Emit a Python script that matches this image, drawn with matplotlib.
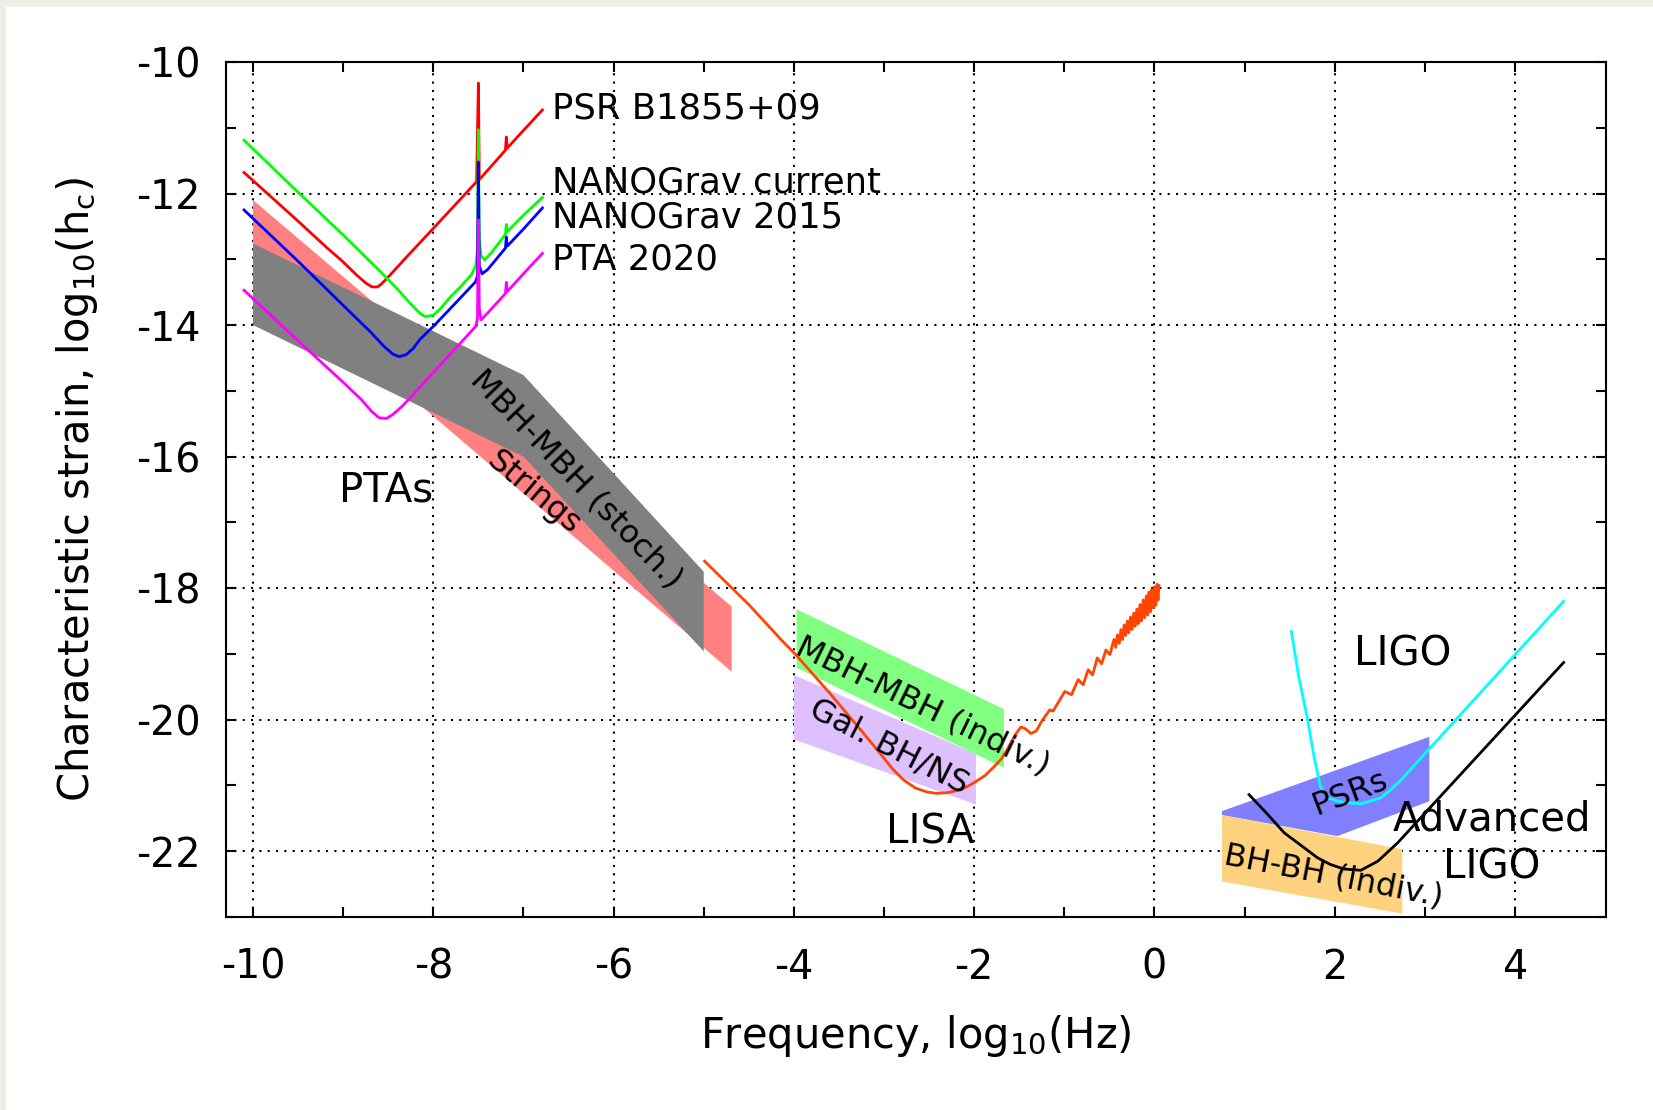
import matplotlib
matplotlib.use("Agg")
import matplotlib.pyplot as plt
from matplotlib.patches import Rectangle

plt.rcParams['axes.unicode_minus'] = False

# ---- data (log10 f, log10 h_c) ----
psr_x = [-10.10, -9.80, -9.50, -9.20, -9.00, -8.85, -8.75, -8.68, -8.62, -8.58, -8.50, -8.30,
         -8.00, -7.75, -7.52, -7.50, -7.49, -7.20, -7.19, -7.18, -7.00, -6.79]
psr_y = [-11.68, -12.05, -12.42, -12.80, -13.04, -13.24, -13.36, -13.42, -13.42, -13.38, -13.27, -12.97,
         -12.53, -12.16, -11.82, -10.32, -11.79, -11.34, -11.14, -11.31, -11.04, -10.73]

ng_cur_x = [-10.10, -9.50, -9.00, -8.60, -8.40, -8.25, -8.15, -8.09, -8.00, -7.92, -7.81, -7.70,
            -7.58, -7.53, -7.51, -7.50, -7.49, -7.47, -7.43, -7.35, -7.20, -7.19, -7.18, -7.00, -6.79]
ng_cur_y = [-11.19, -11.98, -12.63, -13.17, -13.45, -13.68, -13.82, -13.87, -13.85, -13.75, -13.57, -13.42,
            -13.24, -13.10, -12.85, -11.03, -12.70, -12.95, -13.01, -12.89, -12.62, -12.47, -12.58, -12.33, -12.06]

ng15_x = [-10.10, -9.50, -9.00, -8.70, -8.55, -8.45, -8.38, -8.30, -8.22, -8.15, -8.00, -7.75,
          -7.53, -7.51, -7.50, -7.49, -7.46, -7.40, -7.20, -7.19, -7.18, -7.00, -6.79]
ng15_y = [-12.25, -13.03, -13.70, -14.10, -14.32, -14.44, -14.48, -14.45, -14.35, -14.22, -14.02, -13.66,
          -13.34, -13.25, -11.52, -13.10, -13.22, -13.16, -12.83, -12.66, -12.80, -12.54, -12.22]

pta_x = [-10.10, -9.50, -9.00, -8.80, -8.68, -8.60, -8.52, -8.45, -8.35, -8.28, -8.00, -7.75,
         -7.53, -7.51, -7.50, -7.49, -7.47, -7.40, -7.20, -7.19, -7.18, -7.00, -6.79]
pta_y = [-13.47, -14.24, -14.87, -15.13, -15.32, -15.41, -15.42, -15.36, -15.24, -15.14, -14.72, -14.35,
         -14.02, -13.90, -12.40, -13.75, -13.92, -13.82, -13.52, -13.35, -13.49, -13.22, -12.91]

lisa_x = [-4.99, -4.50, -4.13, -3.98, -3.60, -3.28, -3.05, -2.91, -2.78, -2.65, -2.52, -2.42,
          -2.30, -2.20, -2.08, -1.98, -1.88, -1.79, -1.70, -1.64, -1.58, -1.53, -1.48, -1.43,
          -1.37, -1.31, -1.24, -1.16, -1.125, -1.05, -0.995, -0.92, -0.846, -0.79, -0.735, -0.686,
          -0.634, -0.586, -0.538, -0.493, -0.449, -0.43, -0.41, -0.39, -0.37, -0.355, -0.335,
          -0.32, -0.30, -0.285, -0.265, -0.25, -0.23, -0.215, -0.195, -0.18, -0.16, -0.145,
          -0.125, -0.11, -0.09, -0.075, -0.06, -0.045, -0.03, -0.015, 0.0, 0.015, 0.03, 0.04, 0.05]
lisa_y = [-17.59, -18.25, -18.80, -19.01, -19.60, -20.12, -20.50, -20.74, -20.92, -21.04, -21.10, -21.12,
          -21.11, -21.08, -21.02, -20.94, -20.85, -20.73, -20.60, -20.47, -20.32, -20.20, -20.11, -20.14,
          -20.21, -20.17, -20.00, -19.85, -19.87, -19.70, -19.57, -19.62, -19.39, -19.47, -19.24, -19.32,
          -19.06, -19.15, -18.94, -19.01, -18.78, -18.90, -18.71, -18.84, -18.63, -18.78, -18.56,
          -18.72, -18.50, -18.68, -18.44, -18.63, -18.38, -18.58, -18.32, -18.54, -18.25, -18.50,
          -18.18, -18.45, -18.12, -18.41, -18.06, -18.36, -18.02, -18.30, -17.98, -18.26, -17.94, -18.18, -17.96]

ligo_x = [1.52, 1.60, 1.70, 1.77, 1.81, 1.84, 1.92, 2.07, 2.29, 2.51, 2.62, 2.74, 4.54]
ligo_y = [-18.66, -19.34, -20.00, -20.56, -20.81, -21.01, -21.19, -21.25, -21.28, -21.19, -21.07, -20.91, -18.20]

aligo_x = [1.05, 1.25, 1.44, 1.81, 1.95, 2.10, 2.29, 2.48, 2.70, 4.54]
aligo_y = [-21.14, -21.43, -21.72, -22.10, -22.20, -22.27, -22.29, -22.15, -21.87, -19.13]

# source regions (polygon corners)
strings_x = [-10.0, -4.69, -4.69, -10.0]
strings_y = [-12.10, -18.28, -19.27, -13.04]
stoch_x = [-10.0, -7.0, -5.0, -5.0, -7.0, -10.0]
stoch_y = [-12.76, -14.76, -17.75, -18.96, -16.0, -14.0]
mbh_ind_x = [-3.97, -1.67, -1.67, -3.97]
mbh_ind_y = [-18.32, -19.84, -20.73, -19.21]
gal_x = [-4.0, -1.98, -1.98, -4.0]
gal_y = [-19.32, -20.52, -21.29, -20.30]
psrs_x = [0.75, 3.05, 3.05, 2.03, 0.75]
psrs_y = [-21.39, -20.26, -21.24, -21.77, -21.45]
bhbh_x = [0.75, 2.75, 2.75, 0.75]
bhbh_y = [-21.45, -21.97, -22.95, -22.46]

fig = plt.figure(figsize=(16.53, 11.10), dpi=100)
# grey screenshot border top/left
fig.patches.append(Rectangle((0, 0), 1, 1, transform=fig.transFigure, color='#eeeee8', zorder=-10))
fig.patches.append(Rectangle((6/1653, 0), 1, 1 - 7/1110, transform=fig.transFigure, color='white', zorder=-9))
fig.patch.set_alpha(0)

ax = fig.add_axes([226/1653, 1 - 917/1110, (1606 - 226)/1653, (917 - 62)/1110])

ax.fill(strings_x, strings_y, color='#ff8080', lw=0, zorder=1)
ax.fill(stoch_x, stoch_y, color='#808080', lw=0, zorder=2)
ax.fill(mbh_ind_x, mbh_ind_y, color='#80ff80', lw=0, zorder=1)
ax.fill(gal_x, gal_y, color='#dfc0ff', lw=0, zorder=1)
ax.fill(psrs_x, psrs_y, color='#8080ff', lw=0, zorder=1)
ax.fill(bhbh_x, bhbh_y, color='#ffd280', lw=0, zorder=1)

ax.plot(psr_x, psr_y, color='#ff0000', lw=2, zorder=3)
ax.plot(ng_cur_x, ng_cur_y, color='#00ff00', lw=2, zorder=3)
ax.plot(ng15_x, ng15_y, color='#0000ff', lw=2, zorder=3)
ax.plot(pta_x, pta_y, color='#ff00ff', lw=2, zorder=3)
ax.plot(lisa_x, lisa_y, color='#ff4500', lw=2, zorder=3)
ax.plot(ligo_x, ligo_y, color='#00ffff', lw=2, zorder=3)
ax.plot(aligo_x, aligo_y, color='black', lw=2, zorder=3)

big = 29
lab = 25.5
rot = 23
ax.text(-6.68, -10.71, 'PSR B1855+09', fontsize=lab, va='center', ha='left')
ax.text(-6.68, -11.83, 'NANOGrav current', fontsize=lab, va='center', ha='left')
ax.text(-6.68, -12.36, 'NANOGrav 2015', fontsize=lab, va='center', ha='left')
ax.text(-6.68, -13.00, 'PTA 2020', fontsize=lab, va='center', ha='left')
ax.text(-8.52, -16.52, 'PTAs', fontsize=big, ha='center', va='center')
ax.text(-6.41, -16.35, 'MBH-MBH (stoch.)', fontsize=rot, rotation=-46, ha='center', va='center', zorder=5)
ax.text(-6.88, -16.55, 'Strings', fontsize=rot, rotation=-40, ha='center', va='center', zorder=5)
ax.text(-2.57, -19.80, 'MBH-MBH (indiv.)', fontsize=rot, rotation=-26, ha='center', va='center', zorder=5)
ax.text(-2.94, -20.41, 'Gal. BH/NS', fontsize=rot, rotation=-27, ha='center', va='center', zorder=5)
ax.text(-2.49, -21.71, 'LISA', fontsize=big, ha='center', va='center')
ax.text(2.75, -19.01, 'LIGO', fontsize=big, ha='center', va='center')
ax.text(3.74, -21.52, 'Advanced', fontsize=big, ha='center', va='center', zorder=5)
ax.text(3.74, -22.25, 'LIGO', fontsize=big, ha='center', va='center')
ax.text(2.18, -21.11, 'PSRs', fontsize=rot, rotation=21, ha='center', va='center', zorder=5)
ax.text(1.99, -22.38, 'BH-BH (indiv.)', fontsize=rot, rotation=-11, ha='center', va='center', zorder=5)

ax.set_xlim(-10.3, 5.01)
ax.set_ylim(-23, -10)
ax.set_xticks(range(-10, 5, 2))
ax.set_yticks(range(-22, -9, 2))
ax.set_xticks(range(-9, 5, 2), minor=True)
ax.set_yticks(range(-23, -10, 2), minor=True)
ax.tick_params(which='both', direction='in', top=True, right=True, width=1.5, labelsize=28.5)
ax.tick_params(which='major', length=7)
ax.tick_params(which='minor', length=7)
ax.tick_params(axis='x', pad=22)
ax.tick_params(axis='y', pad=18)
for s in ax.spines.values():
    s.set_linewidth(1.5)
ax.grid(True, which='major', color='black', linestyle=(0, (1, 3)), lw=1.5)
ax.set_axisbelow(True)

ax.set_xlabel(r'Frequency, log$_{10}$(Hz)', fontsize=30, labelpad=18)
ax.set_ylabel(r'Characteristic strain, log$_{10}$(h$_{\mathrm{c}}$)', fontsize=30, labelpad=26)

fig.savefig('out.png', dpi=100)
